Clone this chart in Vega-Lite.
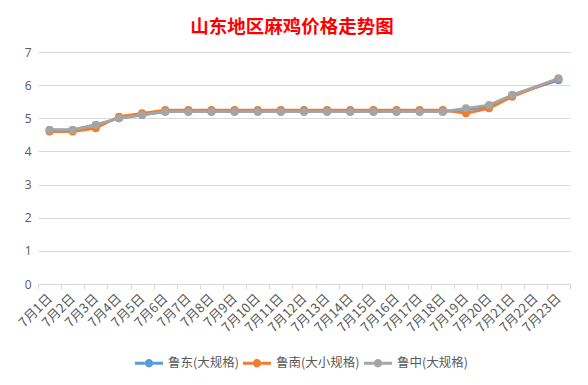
{
  "$schema": "https://vega.github.io/schema/vega-lite/v6.json",
  "width": 532,
  "height": 232,
  "autosize": "none",
  "padding": {"left": 38, "top": 52, "right": 18, "bottom": 101},
  "background": "white",
  "title": {
    "text": "山东地区麻鸡价格走势图",
    "color": "#FF0000",
    "fontSize": 18.5,
    "fontWeight": "bold",
    "font": "Noto Sans CJK SC",
    "anchor": "middle",
    "frame": "group",
    "dx": -12,
    "offset": 10
  },
  "config": {
    "view": {"stroke": null},
    "font": "Noto Sans CJK SC",
    "axis": {"labelFont": "Noto Sans CJK SC", "labelColor": "#595959", "gridColor": "#D9D9D9", "domainColor": "#D9D9D9", "tickColor": "#D9D9D9"},
    "legend": {
      "orient": "none",
      "legendX": 97,
      "legendY": 297,
      "direction": "horizontal",
      "padding": 0,
      "symbolType": "M-1,-0.1H-0.3V0.1H-1Z M0.3,-0.1H1V0.1H0.3Z M-0.3,0A0.3,0.3 0 1,0 0.3,0A0.3,0.3 0 1,0 -0.3,0Z",
      "symbolSize": 784,
      "labelFontSize": 12.5,
      "labelColor": "#595959",
      "labelFont": "Noto Sans CJK SC",
      "columnPadding": 4,
      "labelOffset": 5
    }
  },
  "data": {
    "values": [
      {"date": "7月1日", "series": "鲁东(大规格)", "price": 4.65},
      {"date": "7月2日", "series": "鲁东(大规格)", "price": 4.65},
      {"date": "7月3日", "series": "鲁东(大规格)", "price": 4.8},
      {"date": "7月4日", "series": "鲁东(大规格)", "price": 5.0},
      {"date": "7月5日", "series": "鲁东(大规格)", "price": 5.1},
      {"date": "7月6日", "series": "鲁东(大规格)", "price": 5.2},
      {"date": "7月7日", "series": "鲁东(大规格)", "price": 5.2},
      {"date": "7月8日", "series": "鲁东(大规格)", "price": 5.2},
      {"date": "7月9日", "series": "鲁东(大规格)", "price": 5.2},
      {"date": "7月10日", "series": "鲁东(大规格)", "price": 5.2},
      {"date": "7月11日", "series": "鲁东(大规格)", "price": 5.2},
      {"date": "7月12日", "series": "鲁东(大规格)", "price": 5.2},
      {"date": "7月13日", "series": "鲁东(大规格)", "price": 5.2},
      {"date": "7月14日", "series": "鲁东(大规格)", "price": 5.2},
      {"date": "7月15日", "series": "鲁东(大规格)", "price": 5.2},
      {"date": "7月16日", "series": "鲁东(大规格)", "price": 5.2},
      {"date": "7月17日", "series": "鲁东(大规格)", "price": 5.2},
      {"date": "7月18日", "series": "鲁东(大规格)", "price": 5.2},
      {"date": "7月19日", "series": "鲁东(大规格)", "price": 5.25},
      {"date": "7月20日", "series": "鲁东(大规格)", "price": 5.35},
      {"date": "7月21日", "series": "鲁东(大规格)", "price": 5.7},
      {"date": "7月23日", "series": "鲁东(大规格)", "price": 6.15},
      {"date": "7月1日", "series": "鲁南(大小规格)", "price": 4.6},
      {"date": "7月2日", "series": "鲁南(大小规格)", "price": 4.6},
      {"date": "7月3日", "series": "鲁南(大小规格)", "price": 4.7},
      {"date": "7月4日", "series": "鲁南(大小规格)", "price": 5.05},
      {"date": "7月5日", "series": "鲁南(大小规格)", "price": 5.15},
      {"date": "7月6日", "series": "鲁南(大小规格)", "price": 5.25},
      {"date": "7月7日", "series": "鲁南(大小规格)", "price": 5.25},
      {"date": "7月8日", "series": "鲁南(大小规格)", "price": 5.25},
      {"date": "7月9日", "series": "鲁南(大小规格)", "price": 5.25},
      {"date": "7月10日", "series": "鲁南(大小规格)", "price": 5.25},
      {"date": "7月11日", "series": "鲁南(大小规格)", "price": 5.25},
      {"date": "7月12日", "series": "鲁南(大小规格)", "price": 5.25},
      {"date": "7月13日", "series": "鲁南(大小规格)", "price": 5.25},
      {"date": "7月14日", "series": "鲁南(大小规格)", "price": 5.25},
      {"date": "7月15日", "series": "鲁南(大小规格)", "price": 5.25},
      {"date": "7月16日", "series": "鲁南(大小规格)", "price": 5.25},
      {"date": "7月17日", "series": "鲁南(大小规格)", "price": 5.25},
      {"date": "7月18日", "series": "鲁南(大小规格)", "price": 5.25},
      {"date": "7月19日", "series": "鲁南(大小规格)", "price": 5.15},
      {"date": "7月20日", "series": "鲁南(大小规格)", "price": 5.3},
      {"date": "7月21日", "series": "鲁南(大小规格)", "price": 5.65},
      {"date": "7月23日", "series": "鲁南(大小规格)", "price": 6.2},
      {"date": "7月1日", "series": "鲁中(大规格)", "price": 4.65},
      {"date": "7月2日", "series": "鲁中(大规格)", "price": 4.65},
      {"date": "7月3日", "series": "鲁中(大规格)", "price": 4.8},
      {"date": "7月4日", "series": "鲁中(大规格)", "price": 5.0},
      {"date": "7月5日", "series": "鲁中(大规格)", "price": 5.1},
      {"date": "7月6日", "series": "鲁中(大规格)", "price": 5.2},
      {"date": "7月7日", "series": "鲁中(大规格)", "price": 5.2},
      {"date": "7月8日", "series": "鲁中(大规格)", "price": 5.2},
      {"date": "7月9日", "series": "鲁中(大规格)", "price": 5.2},
      {"date": "7月10日", "series": "鲁中(大规格)", "price": 5.2},
      {"date": "7月11日", "series": "鲁中(大规格)", "price": 5.2},
      {"date": "7月12日", "series": "鲁中(大规格)", "price": 5.2},
      {"date": "7月13日", "series": "鲁中(大规格)", "price": 5.2},
      {"date": "7月14日", "series": "鲁中(大规格)", "price": 5.2},
      {"date": "7月15日", "series": "鲁中(大规格)", "price": 5.2},
      {"date": "7月16日", "series": "鲁中(大规格)", "price": 5.2},
      {"date": "7月17日", "series": "鲁中(大规格)", "price": 5.2},
      {"date": "7月18日", "series": "鲁中(大规格)", "price": 5.2},
      {"date": "7月19日", "series": "鲁中(大规格)", "price": 5.3},
      {"date": "7月20日", "series": "鲁中(大规格)", "price": 5.4},
      {"date": "7月21日", "series": "鲁中(大规格)", "price": 5.7},
      {"date": "7月23日", "series": "鲁中(大规格)", "price": 6.2}
    ]
  },
  "encoding": {
    "x": {
      "field": "date",
      "type": "ordinal",
      "scale": {"type": "band", "paddingInner": 0, "paddingOuter": 0,
        "domain": ["7月1日","7月2日","7月3日","7月4日","7月5日","7月6日","7月7日","7月8日","7月9日","7月10日","7月11日","7月12日","7月13日","7月14日","7月15日","7月16日","7月17日","7月18日","7月19日","7月20日","7月21日","7月22日","7月23日"]},
      "axis": {
        "title": null,
        "labelAngle": -45,
        "labelAlign": "right",
        "labelBaseline": "middle",
        "labelFontSize": 13,
        "labelPadding": 7,
        "tickBand": "extent",
        "tickSize": 5,
        "grid": false,
        "labelOverlap": false
      }
    },
    "y": {
      "field": "price",
      "type": "quantitative",
      "scale": {"domain": [0, 7], "nice": false},
      "axis": {
        "title": null,
        "values": [0,1,2,3,4,5,6,7],
        "domain": false,
        "ticks": false,
        "labelPadding": 7,
        "labelFontSize": 12,
        "labelFont": "Open Sans",
        "grid": true
      }
    },
    "color": {
      "field": "series",
      "type": "nominal",
      "scale": {"domain": ["鲁东(大规格)", "鲁南(大小规格)", "鲁中(大规格)"], "range": ["#5B9BD5", "#ED7D31", "#A5A5A5"]},
      "legend": {
        "title": null,
        "encode": {"symbols": {"update": {"fill": {"scale": "color", "field": "value"}, "strokeWidth": {"value": 0}, "opacity": {"value": 1}}}}
      }
    }
  },
  "layer": [
    {"mark": {"type": "line", "strokeWidth": 2.75}},
    {"mark": {"type": "point", "filled": true, "size": 64, "opacity": 1}}
  ]
}
